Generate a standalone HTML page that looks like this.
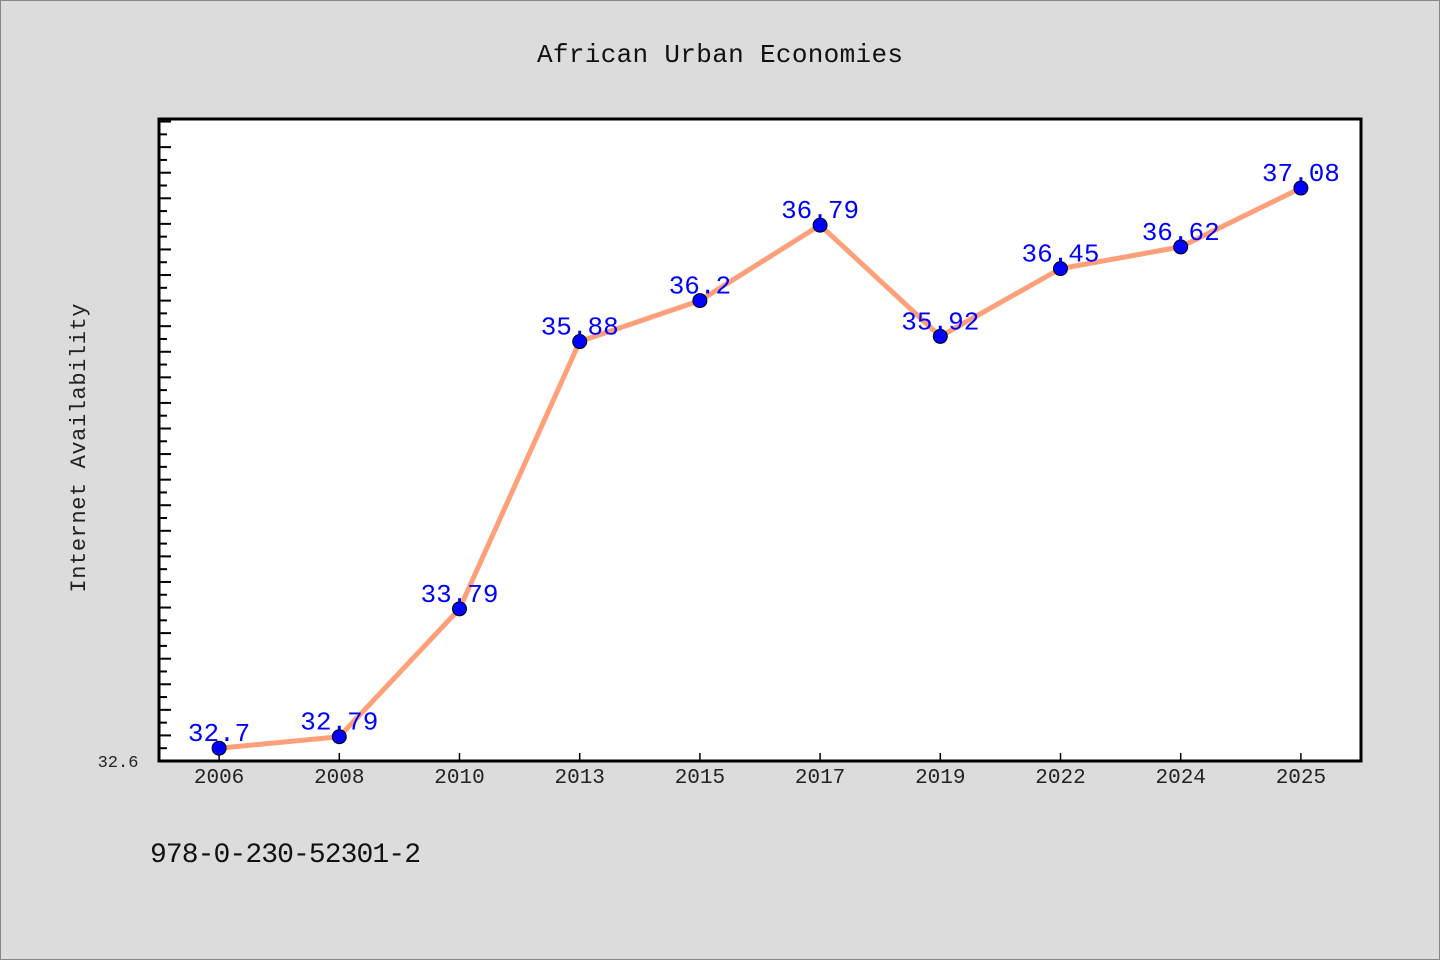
<!DOCTYPE html>
<html><head><meta charset="utf-8"><style>
html,body{margin:0;padding:0;background:#dcdcdc;}
svg{display:block;}
text{font-family:"WenQuanYi Zen Hei","Liberation Mono",monospace;}
</style></head><body>
<svg width="1440" height="960">
<rect x="0.5" y="0.5" width="1439" height="959" fill="#dcdcdc" stroke="#888"/>
<text x="720" y="62" text-anchor="middle" font-size="26" fill="#111" textLength="366">African Urban Economies</text>
<rect x="159" y="119" width="1202" height="642" fill="#fff" stroke="#000" stroke-width="3"/>
<g id="yticks"></g><g id="xticks"></g>
<polyline id="line" fill="none" stroke="#ffa07a" stroke-width="5" stroke-linejoin="round"/>
<g id="pts"></g>
<text x="118" y="767" text-anchor="middle" font-size="17" fill="#222">32.6</text>
<text transform="translate(85,448) rotate(-90)" text-anchor="middle" font-size="22" fill="#222" textLength="289">Internet Availability</text>
<text x="150" y="862" font-size="28" fill="#111" textLength="271">978-0-230-52301-2</text>
</svg>
<script>
const categories=["2006","2008","2010","2013","2015","2017","2019","2022","2024","2025"];
const values=[32.7,32.79,33.79,35.88,36.2,36.79,35.92,36.45,36.62,37.08];
const labels=["32.7","32.79","33.79","35.88","36.2","36.79","35.92","36.45","36.62","37.08"];
const yMin=32.6,yMax=37.62;
const L=159,R=1361,T=119,B=761;
const NS="http://www.w3.org/2000/svg";
function y(v){return B-(v-yMin)/(yMax-yMin)*(B-T);}
function x(i){const bw=(R-L)/categories.length;return L+bw*(i+0.5);}
function mk(t,a,p){const e=document.createElementNS(NS,t);for(const k in a)e.setAttribute(k,a[k]);p.appendChild(e);return e;}
const yt=document.getElementById('yticks');
for(let k=1;;k++){const v=yMin+k*0.1;if(v>yMax)break;const yy=y(v);
const e=mk('line',{x1:L,x2:L+(k%2==0?12:8),y1:yy,y2:yy,stroke:'#000','stroke-width':2},yt);
}
const xt=document.getElementById('xticks');
const pts=document.getElementById('pts');
let pl=[];
categories.forEach((c,i)=>{const xx=x(i);
const t=mk('line',{x1:xx,x2:xx,y1:B,y2:B-8,stroke:'#000','stroke-width':1.5},xt);

const l=mk('text',{x:xx,y:B+22,'text-anchor':'middle','font-size':21,fill:'#222'},xt);l.textContent=c;

pl.push(xx+','+y(values[i]));});
document.getElementById('line').setAttribute('points',pl.join(' '));
values.forEach((v,i)=>{const xx=x(i),yy=y(v);
const c=mk('circle',{cx:xx,cy:yy,r:7,fill:'#0000ff',stroke:'#000','stroke-width':1},pts);

const t=mk('text',{x:xx,y:yy-7,'text-anchor':'middle','font-size':26,fill:'#0000ff'},pts);t.textContent=labels[i];
});
</script>
</body></html>
